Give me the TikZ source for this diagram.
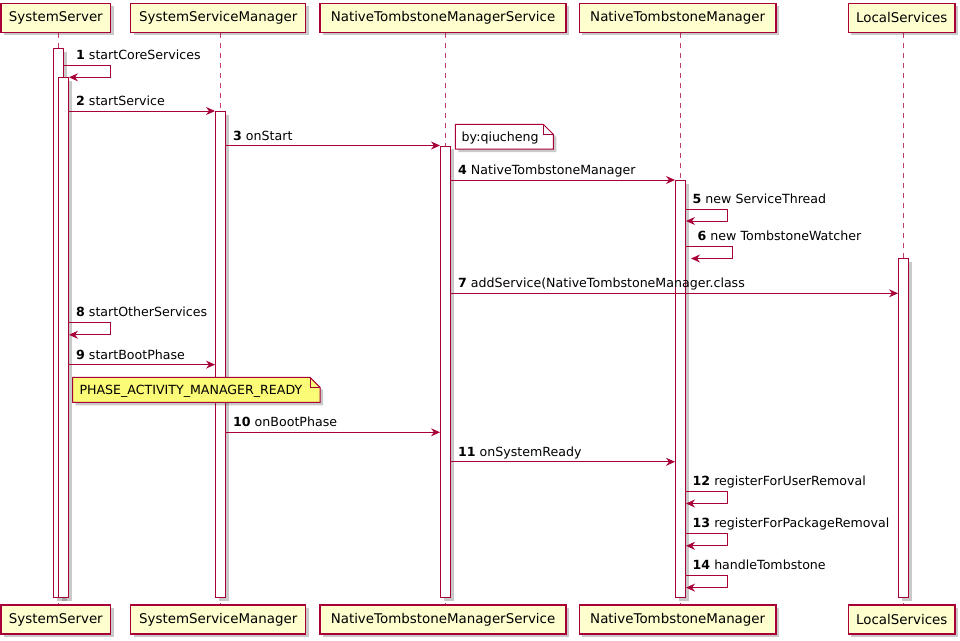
\documentclass[tikz,border=0pt]{standalone}
\usepackage{fontspec}
\setmainfont{DejaVu Sans}
\usetikzlibrary{arrows.meta,shadows}
\definecolor{pline}{HTML}{A80036}
\definecolor{pfill}{HTML}{FEFECE}
\definecolor{nfill}{HTML}{FBFB77}
\tikzset{
  shad/.style={drop shadow={shadow xshift=3pt,shadow yshift=-3pt,opacity=.3,fill=black!70}},
  part/.style={draw=pline,line width=1.4pt,fill=pfill,minimum height=29pt,inner sep=0pt,
    font=\fontsize{13.4}{15}\selectfont,shad},
  bar/.style={draw=pline,line width=1pt,fill=white,minimum width=10pt,inner sep=0pt,anchor=north west,shad},
  life/.style={draw=pline,line width=1pt,dash pattern=on 5pt off 5pt,opacity=.75},
  msg/.style={draw=pline,line width=1pt,-{Stealth[length=9pt,width=8pt,inset=3pt]}},
  lbl/.style={anchor=base west,inner sep=0pt,font=\fontsize{12.6}{14}\selectfont},
  notebox/.style={draw=pline,line width=1pt,shad}
}
\begin{document}
\begin{tikzpicture}[x=1pt,y=-1pt]
\useasboundingbox (0,0) rectangle (960,640);
% participants
\node[part,minimum width=109.7pt] (ssT) at (55.8,17.8) {SystemServer};
\node[part,minimum width=175pt] (ssmT) at (218.2,17.8) {SystemServiceManager};
\node[part,minimum width=246pt] (ntmsT) at (443,17.8) {NativeTombstoneManagerService};
\node[part,minimum width=196.7pt] (ntmT) at (677.7,17.8) {NativeTombstoneManager};
\node[part,minimum width=106.7pt] (lsT) at (901.7,17.8) {LocalServices};
\node[part,minimum width=109.7pt] (ssB) at (55.8,619.5) {SystemServer};
\node[part,minimum width=175pt] (ssmB) at (218.2,619.5) {SystemServiceManager};
\node[part,minimum width=246pt] (ntmsB) at (443,619.5) {NativeTombstoneManagerService};
\node[part,minimum width=196.7pt] (ntmB) at (677.7,619.5) {NativeTombstoneManager};
\node[part,minimum width=106.7pt] (lsB) at (901.7,619.5) {LocalServices};
% lifelines
\coordinate (xSS) at (58,0);
\coordinate (xSSM) at (220,0);
\coordinate (xNTMS) at (445,0);
\coordinate (xNTM) at (680,0);
\coordinate (xLS) at (903,0);
\path[life] (ssT.south -| xSS) -- (ssB.north -| xSS);
\path[life] (ssmT.south -| xSSM) -- (ssmB.north -| xSSM);
\path[life] (ntmsT.south -| xNTMS) -- (ntmsB.north -| xNTMS);
\path[life] (ntmT.south -| xNTM) -- (ntmB.north -| xNTM);
\path[life] (lsT.south -| xLS) -- (lsB.north -| xLS);
% activation bars
\node[bar,minimum height=549pt] (bSSo) at (53,48.3) {};
\node[bar,minimum height=520pt] (bSSi) at (58,77.3) {};
\node[bar,minimum height=486pt] (bSSM) at (215,111) {};
\node[bar,minimum height=451.5pt] (bNTMS) at (440,145.5) {};
\node[bar,minimum height=417pt] (bNTM) at (675,180) {};
\node[bar,minimum height=339pt] (bLS) at (898,258.3) {};
% notes
\coordinate (n1a) at (455.3,124.3);
\coordinate (n1b) at (553.3,149);
\filldraw[notebox,fill=white] (455.3,124.3) -- (543.3,124.3) -- (553.3,134.3) -- (553.3,149) -- (455.3,149) -- cycle;
\draw[pline,line width=1pt] (543.3,124.3) -- (543.3,134.3) -- (553.3,134.3);
\node[lbl] (note1) at (461.5,141) {by:qiucheng};
\filldraw[notebox,fill=nfill] (72.7,377.3) -- (310,377.3) -- (320,387.3) -- (320,402.3) -- (72.7,402.3) -- cycle;
\draw[pline,line width=1pt] (310,377.3) -- (310,387.3) -- (320,387.3);
\node[lbl] (note2) at (79.3,394.5) {PHASE\_ACTIVITY\_MANAGER\_READY};
% messages
\draw[msg] (bSSo.east |- 0,65) -- (110,65) -- (110,77.3) -- (bSSi.east |- 0,77.3);
\node[lbl] (m1) at (76,59.5) {\textbf{1} startCoreServices};
\draw[msg] (bSSi.east |- 0,111) -- (bSSM.west |- 0,111);
\node[lbl] (m2) at (76,105.5) {\textbf{2} startService};
\draw[msg] (bSSM.east |- 0,145.5) -- (bNTMS.west |- 0,145.5);
\node[lbl] (m3) at (233,140) {\textbf{3} onStart};
\draw[msg] (bNTMS.east |- 0,180) -- (bNTM.west |- 0,180);
\node[lbl] (m4) at (458,174.5) {\textbf{4} NativeTombstoneManager};
\draw[msg] (bNTM.east |- 0,209) -- (727,209) -- (727,221) -- (686,221);
\node[lbl] (m5) at (692.5,203.5) {\textbf{5} new ServiceThread};
\draw[msg] (bNTM.east |- 0,246) -- (732,246) -- (732,258.5) -- (691,258.5);
\node[lbl] (m6) at (697.5,240.5) {\textbf{6} new TombstoneWatcher};
\draw[msg] (bNTMS.east |- 0,293.3) -- (bLS.west |- 0,293.3);
\node[lbl] (m7) at (458,287.8) {\textbf{7} addService(NativeTombstoneManager.class};
\draw[msg] (bSSi.east |- 0,322.3) -- (110,322.3) -- (110,334.8) -- (bSSi.east |- 0,334.8);
\node[lbl] (m8) at (76,316.8) {\textbf{8} startOtherServices};
\draw[msg] (bSSi.east |- 0,364.6) -- (bSSM.west |- 0,364.6);
\node[lbl] (m9) at (76,359.1) {\textbf{9} startBootPhase};
\draw[msg] (bSSM.east |- 0,432.3) -- (bNTMS.west |- 0,432.3);
\node[lbl] (m10) at (233,426.8) {\textbf{10} onBootPhase};
\draw[msg] (bNTMS.east |- 0,461.8) -- (bNTM.west |- 0,461.8);
\node[lbl] (m11) at (458,456.3) {\textbf{11} onSystemReady};
\draw[msg] (bNTM.east |- 0,491) -- (727,491) -- (727,503.5) -- (bNTM.east |- 0,503.5);
\node[lbl] (m12) at (692.5,485.5) {\textbf{12} registerForUserRemoval};
\draw[msg] (bNTM.east |- 0,533.3) -- (727,533.3) -- (727,545.8) -- (bNTM.east |- 0,545.8);
\node[lbl] (m13) at (692.5,527.8) {\textbf{13} registerForPackageRemoval};
\draw[msg] (bNTM.east |- 0,575.3) -- (727,575.3) -- (727,587.6) -- (bNTM.east |- 0,587.6);
\node[lbl] (m14) at (692.5,569.8) {\textbf{14} handleTombstone};
\end{tikzpicture}
\end{document}
